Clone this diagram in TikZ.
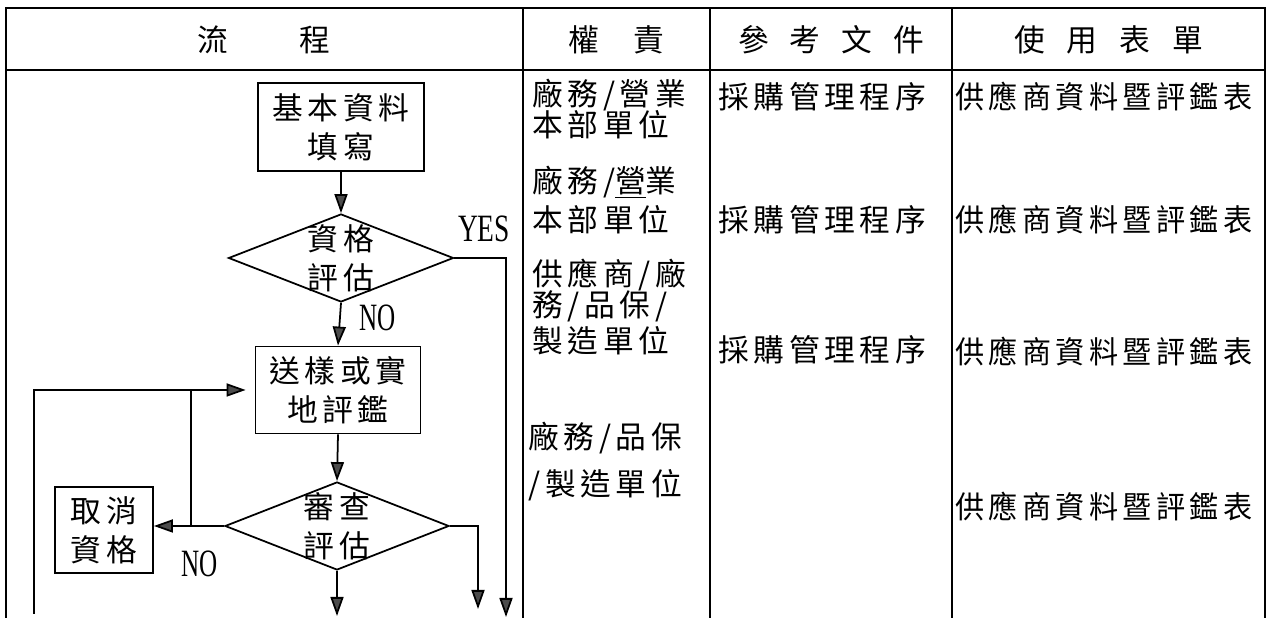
\documentclass[tikz,border=0pt]{standalone}
\usepackage{fontspec}
\setmainfont{Noto Sans CJK TC}[LetterSpace=15]
\newfontfamily\latinfont{Liberation Serif}
\usepackage{graphicx}
\usetikzlibrary{shapes.geometric}
\usetikzlibrary{arrows.meta}

\newcommand{\cjksize}{\fontsize{17.5}{22}\selectfont}
\newcommand{\yesno}[2]{{\latinfont\fontsize{22}{22}\selectfont\scalebox{#1}[1]{#2}}}

\tikzset{
	box/.style = {draw, line width=1pt, inner sep=0pt, align=center},
	dia/.style = {draw, diamond, line width=1pt, inner sep=0pt, minimum width=4.5cm, minimum height=1.76cm},
	arr/.style = {-{Triangle[length=0.38cm,width=0.26cm,fill=black!70]}, line width=1pt},
	cell/.style = {anchor=west, inner sep=0pt},
	rule/.style = {line width=1pt}
}

\begin{document}
\begin{tikzpicture}[font=\cjksize]
	\useasboundingbox (0,0) rectangle (25.42,12.36);

	\draw[rule] (0.12,0) -- (0.12,12.20) -- (25.30,12.20) -- (25.30,0);
	\draw[rule] (0.12,10.96) -- (25.30,10.96);
	\draw[rule] (10.46,0) -- (10.46,12.20);
	\draw[rule] (14.20,0) -- (14.20,12.20);
	\draw[rule] (19.04,0) -- (19.04,12.20);

	\node (hflow) at (5.28,11.56) {流\hspace{1.42cm}程};
	\node (hduty) at (12.33,11.56) {權\hspace{0.68cm}責};
	\node (hdoc) at (16.62,11.56) {參\hspace{0.42cm}考\hspace{0.42cm}文\hspace{0.42cm}件};
	\node (hform) at (22.17,11.56) {使\hspace{0.44cm}用\hspace{0.44cm}表\hspace{0.44cm}單};

	\node[box, minimum width=3.32cm, minimum height=1.76cm] (fill) at (6.82,9.82) {基本資料\\填寫};
	\node[dia] (qual) at (6.82,7.20) {};
	\node[align=center] (qualtext) at (qual) {資格\\評估};
	\node[box, minimum width=3.30cm, minimum height=1.74cm] (visit) at (6.76,4.56) {送樣或實\\地評鑑};
	\node[dia, minimum width=4.48cm] (review) at (6.74,1.84) {};
	\node[align=center] (reviewtext) at (review) {審查\\評估};
	\node[box, minimum width=1.96cm, minimum height=1.72cm] (cancel) at (2.08,1.76) {取消\\資格};

	\node (yes) at (9.68,7.78) {\yesno{0.71}{YES}};
	\node (no1) at (7.56,6.00) {\yesno{0.65}{NO}};
	\node (no2) at (4.00,1.08) {\yesno{0.65}{NO}};

	\coordinate (yesend) at (10.12,0.02);
	\coordinate (loopstart) at (0.68,0.08);
	\coordinate (branch) at (3.82,1.84);
	\coordinate (passend) at (6.70,0.04);
	\coordinate (rightend) at (9.56,0.18);

	\draw[arr] (fill.south) -- (qual.north);
	\draw[arr] (qual.east) -| (yesend);
	\draw[arr] (qual.south) -- (visit.north);
	\draw[arr] (visit.south) -- (review.north);
	\draw[arr] (review.west) -- (review.west -| cancel.east);
	\draw[arr, shorten >=0.18cm] (loopstart) |- (visit.west);
	\draw[rule] (branch) -- (branch |- visit.west);
	\draw[arr] (review.south) -- (review.south |- passend);
	\draw[arr] (review.east) -| (rightend);

	\node[cell] (duty1a) at (10.64,10.46) {廠務/營業};
	\node[cell] (duty1b) at (10.64,9.86) {本部單位};
	\node[cell] (duty2a) at (10.64,8.72) {廠務/\underline{營}業};
	\node[cell] (duty2b) at (10.64,7.96) {本部單位};
	\node[cell] (duty3a) at (10.64,6.86) {供應商/廠};
	\node[cell] (duty3b) at (10.64,6.24) {務/品保/};
	\node[cell] (duty3c) at (10.64,5.54) {製造單位};
	\node[cell] (duty4a) at (10.56,3.60) {廠務/品保};
	\node[cell] (duty4b) at (10.56,2.66) {/製造單位};

	\node[cell] (doc1) at (14.36,10.42) {採購管理程序};
	\node[cell] (doc2) at (14.36,7.96) {採購管理程序};
	\node[cell] (doc3) at (14.36,5.36) {採購管理程序};

	\node[cell] (form1) at (19.10,10.42) {\scalebox{0.946}[1]{供應商資料暨評鑑表}};
	\node[cell] (form2) at (19.10,7.96) {\scalebox{0.946}[1]{供應商資料暨評鑑表}};
	\node[cell] (form3) at (19.10,5.32) {\scalebox{0.946}[1]{供應商資料暨評鑑表}};
	\node[cell] (form4) at (19.10,2.22) {\scalebox{0.946}[1]{供應商資料暨評鑑表}};

\end{tikzpicture}
\end{document}
